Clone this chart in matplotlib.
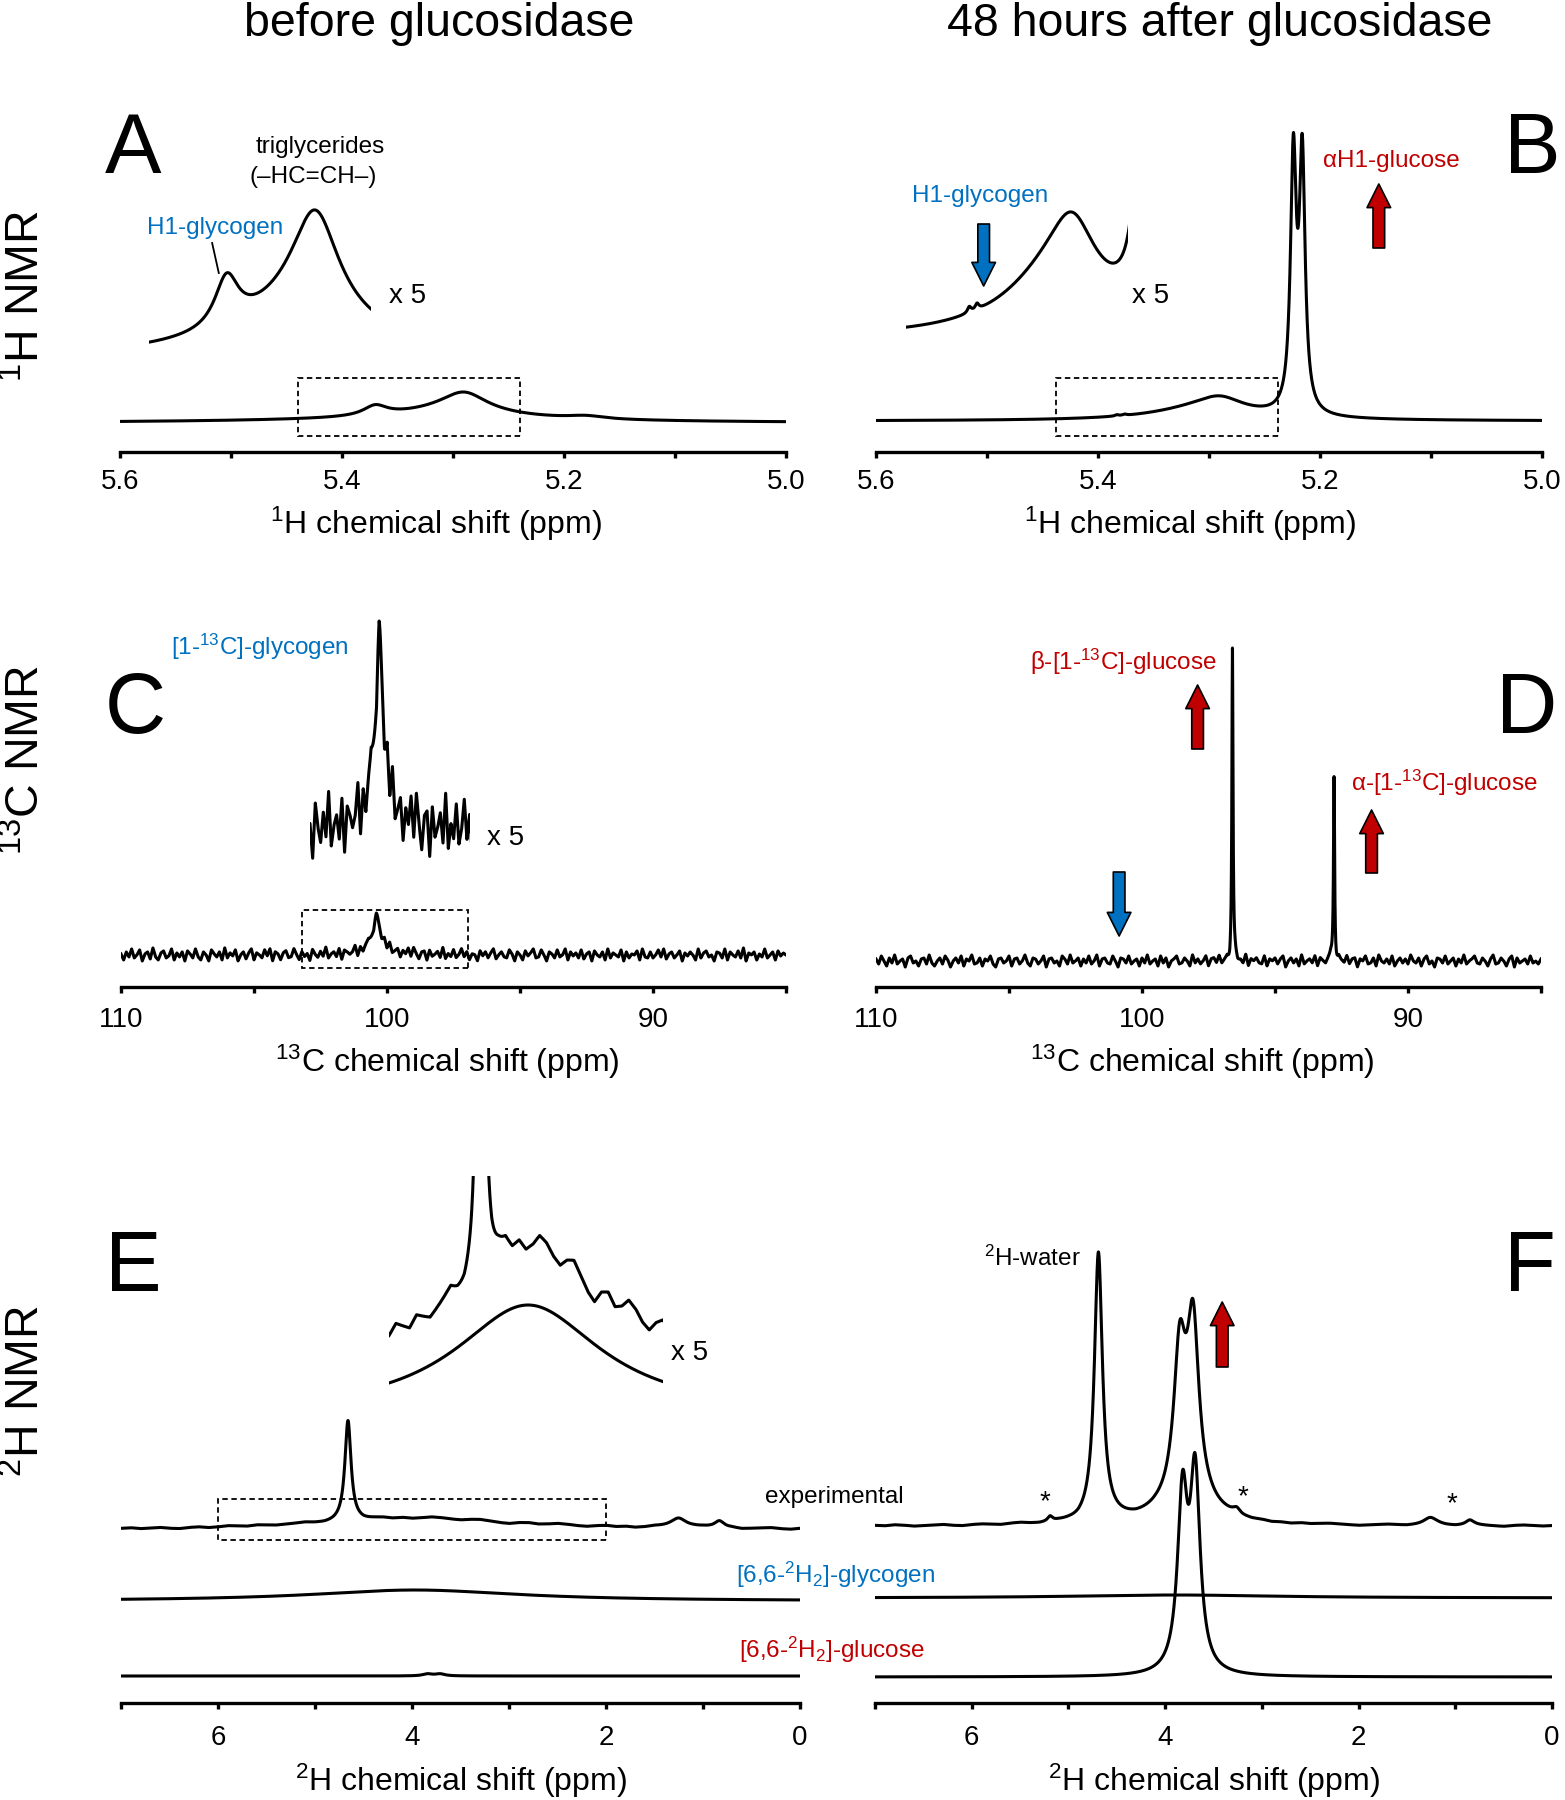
import numpy as np
import matplotlib.pyplot as plt
from matplotlib.patches import Rectangle

plt.rcParams['font.family'] = ['Liberation Sans', 'DejaVu Sans']
plt.rcParams['mathtext.fontset'] = 'custom'
plt.rcParams['mathtext.rm'] = 'Liberation Sans'
plt.rcParams['mathtext.it'] = 'Liberation Sans:italic'

W, H = 1565, 1800
BLUE = '#0070C0'
RED = '#C00000'
LW = 2.2

# ---- peak tables: centre (ppm), height (px), half width (ppm)
# 1H, before glucosidase
h1_before_ppm = [5.37, 5.29, 5.30, 5.18, 5.33]
h1_before_height = [10, 19, 9, 3, 3]
h1_before_hw = [0.013, 0.025, 0.06, 0.02, 0.2]
# 1H, 48 h after
h1_after_ppm = [5.224, 5.216, 5.29, 5.305, 5.383, 5.376]
h1_after_height = [250, 250, 13, 12, 1.2, 1.2]
h1_after_hw = [0.0031, 0.0031, 0.025, 0.055, 0.002, 0.002]

# 13C
c13_before_ppm = [100.4, 100.4]
c13_before_height = [35, 4]
c13_before_hw = [0.18, 0.8]
c13_after_ppm = [96.6, 92.78]
c13_after_height = [310, 187]
c13_after_hw = [0.025, 0.025]

# 13C baseline noise, 110 -> 85 ppm
c13_noise_before = [
    1, -5, 3, -2, 6, -3, 0, 5, -6, 1, 3, -4, 7, -2, -5, 2, 4, -3, -1, 6, -5, 2, -2, 3, -6,
    4, 1, -3, 6, -2, -5, 3, 0, -6, 5, 1, -2, 3, -5, 7, -3, 2, -1, 5, -6, 0, 3, -4, 2, 6,
    -5, 2, 0, -3, 5, -1, 6, -6, 3, 1, -5, 2, 4, -3, -2, 6, 0, -5, 3, -2, 1, -6, 5, 0, -3,
    3, -2, 7, -4, 0, 2, -3, 5, -6, 3, 1, -2, 0, 6, -5, 3, -3, 2, 4, -1, -6, 3, 0, -3, 5,
    -2, 6, -3, 0, 3, -5, 2, -1, 5, -3, 6, 0, -5, 2, 3, -6, 4, -2, 0, 3, -3, 7, -4, 1, -2,
    5, -3, 0, 6, -2, 3, -5, 1, 0, -6, 4, -1, 3, -3, 2, 6, -4, 0, 3, -2, -3, 5, 1, -6, 3,
    0, -5, 4, -1, 2, 6, -3, -2, 5, 0, -6, 3, 1, -3, 5, -2, 0, 6, -5, 3, -1, 2, -3, 5, -4,
    1, 3, -6, 4, 0, -2, 3, -5, 6, -3, 2, 0, -2, 5, -6, 3, -3, 1, 0, 4, -5, 6, -2, -3, 3,
    -3, 0, 5, -2, 6, -4, 1, 3, -3, 0, 4, -6, 2, -1, 3, 0, -5, 6, -3, 2, 4, -2, 0, -6, 3,
    2, -3, 6, -5, 3, 0, -2, 4, -3, 7, -6, 2, 0, 3, -5, 1, -2, 6, -3, 0, 3, -5, 4, -1, 2, 0]
c13_noise_after = [
    2, -3, 5, 0, -5, 3, -2, 6, -3, 0, 2, -6, 3, 5, -2, 0, -5, 2, 3, -3, 6, -2, -5, 0, 3,
    -3, 5, 1, -6, 0, 3, -2, 5, -5, 2, 0, 6, -3, -2, 3, -5, 2, 0, 5, -3, -6, 2, 3, -2, 0,
    5, -5, 2, 3, -3, 0, 6, -2, -5, 3, 2, -3, 0, 5, -6, 2, 3, -2, 0, -5, 5, 2, -3, 6, -2,
    0, 3, -5, 2, -2, 5, -3, 0, 6, -5, 2, 3, -2, -3, 5, 0, -6, 3, 2, -2, 5, -3, 0, 2, -5,
    3, -2, 6, -3, 0, 2, -5, 5, -2, 3, -6, 0, 2, 5, -3, -2, 3, 0, -5, 6, -2, 2, -3, 0, 5,
    -5, 2, 3, -2, 5, -3, 0, 2, -6, 3, 5, -2, 0, -3, 6, -5, 2, 0, 3, -2, -3, 5, -5, 2, 0,
    3, -3, 2, 5, -6, 0, 3, -2, 2, -5, 6, -3, 0, 2, -2, 5, -5, 3, 0, -3, 2, 6, -2, -5, 3,
    0, -2, 5, -3, 2, 3, -6, 2, 0, 5, -3, -2, 3, -5, 6, 0, -2, 2, -3, 5, -5, 0, 3, -2, 2,
    -3, 6, 0, -2, 3, -5, 2, 5, -3, 0, -6, 3, 2, -2, 5, -3, 0, 3, -5, 2, -2, 6, -3, 0, 2,
    5, -2, -3, 3, 0, -5, 2, 6, -3, -2, 3, 0, -5, 2, 5, -6, 3, -2, 0, 2, -3, 5, -2, 0, -3, 2]

# 2H, before glucosidase
h2_before_exp_ppm = [4.66, 3.9, 1.25, 0.83]
h2_before_exp_height = [100, 11, 10, 7]
h2_before_exp_hw = [0.038, 1.3, 0.1, 0.06]
h2_before_glycogen_ppm = [3.97]
h2_before_glycogen_height = [11]
h2_before_glycogen_hw = [1.3]
h2_before_glucose_ppm = [3.84, 3.71]
h2_before_glucose_height = [2, 2]
h2_before_glucose_hw = [0.06, 0.06]
# 2H, 48 h after
h2_after_exp_ppm = [4.69, 3.85, 3.71, 3.77, 3.9, 5.19, 3.26, 1.26, 0.85]
h2_after_exp_height = [268, 127, 151, 50, 4, 5, 5, 7, 5]
h2_after_exp_hw = [0.05, 0.07, 0.07, 0.18, 0.8, 0.03, 0.04, 0.08, 0.05]
h2_after_glycogen_ppm = [3.9]
h2_after_glycogen_height = [3]
h2_after_glycogen_hw = [1.3]
h2_after_glucose_ppm = [3.82, 3.69]
h2_after_glucose_height = [171, 192]
h2_after_glucose_hw = [0.062, 0.062]

# 2H baseline wiggles, 7 -> 0 ppm
h2_wiggle_before = [
    -0.5, 0, -1, -0.5, 0, -1, -1.5, -0.5, 0, -1, -0.5, 0.5, 0, -0.5, 0.5, 0, -0.5, 0,
    0.5, 1, 0, -0.5, 0, 1, 0.5, 0, 1, 1.5, 0.5, 1, 0, 0.5, 1.5, 1, 0, -0.5, 0.5, 1, 0,
    -1, -1.5, 0, 0.5, -0.5, 0, 1, 0.5, -0.5, -1, 0, 0.5, -0.5, 0, -1, -0.5, 0.5, 0,
    -0.5, -1, 0, 0.5, 0, -0.5, 0, -1, -0.5, 0, 0.5, -0.5, -1, 0]
h2_wiggle_after = [
    0, -0.5, 0.5, 0, -1, -0.5, 0, 0.5, -0.5, -1, 0, 0.5, 0, -0.5, 0.5, 1, 0, -0.5, 0,
    0.5, 0, -1, 0, 0.5, 1, 0.5, 0, -0.5, 0, 0.5, 0, 1, 0.5, 0, -0.5, 0, 0.5, 1, 0,
    -0.5, 0, -1, -0.5, -1, 0, -0.5, 0, 0.5, 0, -0.5, -1, -0.5, 0, 0.5, 0, -0.5, 0, 0.5,
    1, 0, -0.5, 0, 0.5, 0, -0.5, -1, 0, 0.5, 0, -0.5, 0]


def lorentz(x, ppm, height, hw):
    y = np.zeros_like(x)
    for c, h, w in zip(ppm, height, hw):
        y = y + h / (1 + ((x - c) / w) ** 2)
    return y


def noise_on(x, start, stop, values):
    grid = np.linspace(start, stop, len(values))
    return np.interp(x, grid[::-1], np.array(values, float)[::-1])


def px_box(x0, x1, ytop, ybot):
    return [x0 / W, 1 - ybot / H, (x1 - x0) / W, (ybot - ytop) / H]


fig = plt.figure(figsize=(W / 100, H / 100), dpi=100)


def panel(x0, x1, yaxis, height, xlim, major, labels, minor, xlabel, pad, lpad, lx=0.5):
    ax = fig.add_axes(px_box(x0, x1, yaxis - height, yaxis))
    ax.set_xlim(xlim)
    ax.set_ylim(0, height)
    ax.patch.set_alpha(0)
    for s in ['left', 'right', 'top']:
        ax.spines[s].set_visible(False)
    ax.spines['bottom'].set_linewidth(2.4)
    ax.set_yticks([])
    ax.set_xticks(major)
    ax.set_xticklabels(labels)
    ax.set_xticks(minor, minor=True)
    ax.tick_params(axis='x', which='both', direction='out', length=4.5, width=2.4,
                   labelsize=20, pad=pad)
    ax.set_xlabel(xlabel, fontsize=23, labelpad=lpad)
    ax.xaxis.label.set_x(lx)
    return ax


def inset(x0, x1, ytop, ybot, ybase, base, k, xlim):
    ax = fig.add_axes(px_box(x0, x1, ytop, ybot))
    ax.set_xlim(xlim)
    ax.set_ylim(base - (ybot - ybase) / k, base + (ybase - ytop) / k)
    ax.axis('off')
    return ax


def dashed_box(ax, x0, x1, y0, y1):
    ax.add_patch(Rectangle((min(x0, x1), y0), abs(x1 - x0), y1 - y0, fill=False,
                           ec='k', lw=1.3, ls=(0, (3, 2))))


def arrow(ax, x, ybase, ytip, color):
    ax.annotate('', xy=(x, ytip), xytext=(x, ybase),
                arrowprops=dict(arrowstyle='simple,head_length=0.85,head_width=0.85,tail_width=0.42',
                                fc=color, ec='k', lw=1.2, shrinkA=0, shrinkB=0,
                                mutation_scale=20))


lab_h1 = r'$\mathregular{^1}$H chemical shift (ppm)'
lab_c13 = r'$\mathregular{^{13}}$C chemical shift (ppm)'
lab_h2 = r'$\mathregular{^2}$H chemical shift (ppm)'

# ---------------- A
x1h = np.linspace(5.6, 5.0, 4000)
sA = 29 + lorentz(x1h, h1_before_ppm, h1_before_height, h1_before_hw)
axA = panel(120, 786, 452, 330, (5.6, 5.0), [5.6, 5.4, 5.2, 5.0],
            ['5.6', '5.4', '5.2', '5.0'], [5.5, 5.3, 5.1], lab_h1, 8, 7, 0.474)
axA.plot(x1h, sA, 'k', lw=LW)
dashed_box(axA, 5.44, 5.24, 16, 74)
inA = inset(149, 371, 120, 420, 360, 30, 5, (5.44, 5.24))
inA.plot(x1h, sA, 'k', lw=LW)
axA.text(5.42, 305, 'triglycerides', fontsize=17.5, ha='center', va='center')
axA.text(5.426, 275, '(–HC=CH–)', fontsize=17.5, ha='center', va='center')
axA.text(5.514, 224, 'H1-glycogen', fontsize=17.5, color=BLUE, ha='center', va='center')
axA.plot([5.517, 5.511], [209, 179], 'k', lw=1.3)
axA.text(5.341, 156, 'x 5', fontsize=20, ha='center', va='center')

# ---------------- B
sB = 31 + lorentz(x1h, h1_after_ppm, h1_after_height, h1_after_hw)
axB = panel(876, 1542, 452, 330, (5.6, 5.0), [5.6, 5.4, 5.2, 5.0],
            ['5.6', '5.4', '5.2', '5.0'], [5.5, 5.3, 5.1], lab_h1, 8, 7, 0.471)
axB.plot(x1h, sB, 'k', lw=LW)
dashed_box(axB, 5.438, 5.238, 16, 74)
inB = inset(906, 1128, 150, 400, 338, 31, 5, (5.44, 5.24))
inB.plot(x1h, sB, 'k', lw=LW)
axB.text(5.506, 256, 'H1-glycogen', fontsize=17.5, color=BLUE, ha='center', va='center')
arrow(axB, 5.503, 228, 166, BLUE)
axB.text(5.353, 156, 'x 5', fontsize=20, ha='center', va='center')
axB.text(5.136, 291, 'αH1-glucose', fontsize=17.5, color=RED, ha='center', va='center')
arrow(axB, 5.147, 204, 268, RED)

# ---------------- C
x13 = np.linspace(110, 85, 10001)
sC = 32 + lorentz(x13, c13_before_ppm, c13_before_height, c13_before_hw) \
    + noise_on(x13, 110, 85, c13_noise_before)
axC = panel(121, 786, 987, 400, (110, 85), [110, 100, 90], ['110', '100', '90'],
            [105, 95, 85], lab_c13, 10, 7, 0.49)
axC.plot(x13, sC, 'k', lw=LW)
dashed_box(axC, 103.2, 96.95, 19, 77)
inC = inset(310, 469.6, 600, 900, 831, 32, 5, (103.0, 97.0))
inC.plot(x13, sC, 'k', lw=LW)
axC.text(104.77, 340, r'[1-$\mathregular{^{13}}$C]-glycogen', fontsize=17.5, color=BLUE,
         ha='center', va='center')
axC.text(95.56, 149, 'x 5', fontsize=20, ha='center', va='center')

# ---------------- D
sD = 26 + lorentz(x13, c13_after_ppm, c13_after_height, c13_after_hw) \
    + noise_on(x13, 110, 85, c13_noise_after)
axD = panel(876, 1541, 987, 400, (110, 85), [110, 100, 90], ['110', '100', '90'],
            [105, 95, 85], lab_c13, 10, 7, 0.49)
axD.plot(x13, sD, 'k', lw=LW)
arrow(axD, 100.86, 115, 51, BLUE)
arrow(axD, 97.91, 238, 302, RED)
arrow(axD, 91.37, 114, 177, RED)
axD.text(100.68, 325, r'β-[1-$\mathregular{^{13}}$C]-glucose', fontsize=17.5, color=RED,
         ha='center', va='center')
axD.text(88.61, 204, r'α-[1-$\mathregular{^{13}}$C]-glucose', fontsize=17.5, color=RED,
         ha='center', va='center')

# ---------------- E
x2h = np.linspace(7, 0, 6001)
eExp = 173.5 + lorentz(x2h, h2_before_exp_ppm, h2_before_exp_height, h2_before_exp_hw) \
    + noise_on(x2h, 7, 0, h2_wiggle_before)
eGly = 102 + lorentz(x2h, h2_before_glycogen_ppm, h2_before_glycogen_height, h2_before_glycogen_hw)
eGlc = 27 + lorentz(x2h, h2_before_glucose_ppm, h2_before_glucose_height, h2_before_glucose_hw)
axE = panel(121, 800, 1703, 480, (7, 0), [6, 4, 2, 0], ['6', '4', '2', '0'],
            [7, 5, 3, 1], lab_h2, 11, 8)
for s in (eExp, eGly, eGlc):
    axE.plot(x2h, s, 'k', lw=LW)
dashed_box(axE, 6.0, 2.0, 163, 204)
inE1 = inset(389, 663, 1176, 1400, 1362, 173.5, 10, (6, 2))
inE1.plot(x2h, eExp, 'k', lw=LW)
inE2 = inset(389, 663, 1250, 1450, 1415, 102, 10, (6, 2))
inE2.plot(x2h, eGly, 'k', lw=LW)
axE.text(1.134, 350, 'x 5', fontsize=20, ha='center', va='center')

# ---------------- F
fExp = 177 + lorentz(x2h, h2_after_exp_ppm, h2_after_exp_height, h2_after_exp_hw) \
    + noise_on(x2h, 7, 0, h2_wiggle_after)
fGly = 105 + lorentz(x2h, h2_after_glycogen_ppm, h2_after_glycogen_height, h2_after_glycogen_hw)
fGlc = 26 + lorentz(x2h, h2_after_glucose_ppm, h2_after_glucose_height, h2_after_glucose_hw)
axF = panel(875, 1552, 1703, 480, (7, 0), [6, 4, 2, 0], ['6', '4', '2', '0'],
            [7, 5, 3, 1], lab_h2, 11, 8)
for s in (fExp, fGly, fGlc):
    axF.plot(x2h, s, 'k', lw=LW)
arrow(axF, 3.41, 336, 401, RED)
axF.text(5.373, 445, r'$\mathregular{^2}$H-water', fontsize=17.5, ha='center', va='center')
for xs, ys in [(5.244, 201), (3.198, 206), (1.04, 199)]:
    axF.text(xs, ys, '*', fontsize=20, ha='center', va='center')

# ---------------- figure level text
fx = lambda x: x / W
fy = lambda y: 1 - y / H
fig.text(fx(439), fy(36), 'before glucosidase', fontsize=33.5, ha='center', va='baseline')
fig.text(fx(1220), fy(36), '48 hours after glucosidase', fontsize=33.5, ha='center', va='baseline')
for t, yy in [(r'$\mathregular{^1}$H NMR', 296), (r'$\mathregular{^{13}}$C NMR', 760),
              (r'$\mathregular{^2}$H NMR', 1391)]:
    fig.text(fx(27), fy(yy), t, fontsize=33.5, rotation=90, ha='center', va='center')
for t, xx, yy in [('A', 133, 173), ('B', 1532, 173), ('C', 135, 733), ('D', 1527, 733),
                  ('E', 133, 1291), ('F', 1530, 1291)]:
    fig.text(fx(xx), fy(yy), t, fontsize=61, ha='center', va='baseline')
fig.text(fx(834), fy(1497), 'experimental', fontsize=17.5, ha='center', va='center')
fig.text(fx(835), fy(1575), r'[6,6-$\mathregular{^2}$H$\mathregular{_2}$]-glycogen',
         fontsize=17.5, color=BLUE, ha='center', va='center')
fig.text(fx(832), fy(1650), r'[6,6-$\mathregular{^2}$H$\mathregular{_2}$]-glucose',
         fontsize=17.5, color=RED, ha='center', va='center')

fig.savefig('out.png', dpi=100)
